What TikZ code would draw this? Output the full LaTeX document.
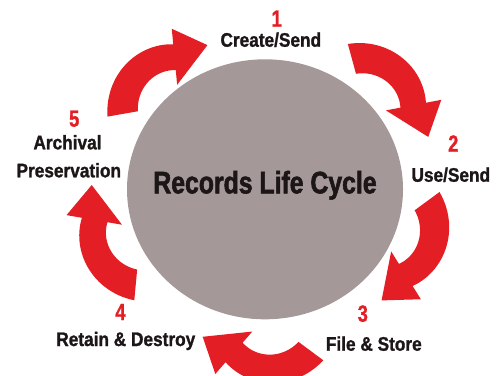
\documentclass[tikz,border=0pt]{standalone}
\usepackage{fontspec}
\setmainfont{Liberation Sans}
\newfontfamily\stepfont[FakeStretch=0.88,FakeBold=1.2]{Liberation Sans}
\newfontfamily\titlefont[FakeStretch=0.8,FakeBold=1.8]{Liberation Sans}
\newfontfamily\numfont[FakeStretch=0.78,FakeBold=1.2]{Liberation Sans}
\usetikzlibrary{shapes.geometric}
\definecolor{lcred}{RGB}{228,30,37}
\definecolor{lcgrey}{RGB}{164,152,152}
\definecolor{lcink}{RGB}{28,22,22}
\newcommand\cyclearrow[3]{%
\pgfmathsetmacro\arrtail{#3-94.5}%
\pgfmathsetmacro\arrtip{#3+31.3}%
\fill[lcred,shift={(#1,#2)}]
plot[domain=\arrtail:#3,samples=30](\x:{72.6-12.6*(\x-\arrtail)/94.5})
--(#3:75.6)--(\arrtip:65.4)--(#3:19.3)--(#3:34)
--plot[domain=#3:\arrtail,samples=30](\x:{34+7.7*(#3-\x)/94.5})
--cycle;}
\tikzset{
hub/.style={ellipse,fill=lcgrey,minimum width=138pt,minimum height=130pt,inner sep=0pt},
hubtitle/.style={font=\titlefont\bfseries\fontsize{15.5}{18}\selectfont,text=lcink,anchor=base,inner sep=0pt},
steptext/.style={font=\stepfont\bfseries\fontsize{9.8}{11}\selectfont,text=lcink,anchor=base,inner sep=0pt},
stepnum/.style={font=\numfont\bfseries\fontsize{11.7}{13}\selectfont,text=lcred,anchor=base,inner sep=0pt}
}
\begin{document}
\begin{tikzpicture}[x=0.5pt,y=0.5pt,yscale=-1]
\useasboundingbox(0,0)rectangle(496,375);
\node[hub](hub)at(265,189.3){};
\node[hubtitle](title)at(265,193.3){Records Life Cycle};
\cyclearrow{179}{104}{264.5}
\cyclearrow{367}{114}{-10.8}
\cyclearrow{381}{235}{58.2}
\cyclearrow{265}{317}{131.1}
\cyclearrow{141}{228}{189.8}
\node[stepnum](n1)at(276.7,26.7){1};
\node[steptext](s1)at(270.8,46.7){Create/Send};
\node[stepnum](n2)at(453.3,151.7){2};
\node[steptext](s2)at(450.8,181.7){Use/Send};
\node[stepnum](n3)at(362.8,321.7){3};
\node[steptext](s3)at(373.8,350.7){File \& Store};
\node[stepnum](n4)at(120.5,320){4};
\node[steptext](s4)at(125.8,346){Retain \& Destroy};
\node[stepnum](n5)at(74.2,126.7){5};
\node[steptext](s5)at(67.5,149.3){Archival};
\node[steptext](s5b)at(68.8,177.3){Preservation};
\end{tikzpicture}
\end{document}
